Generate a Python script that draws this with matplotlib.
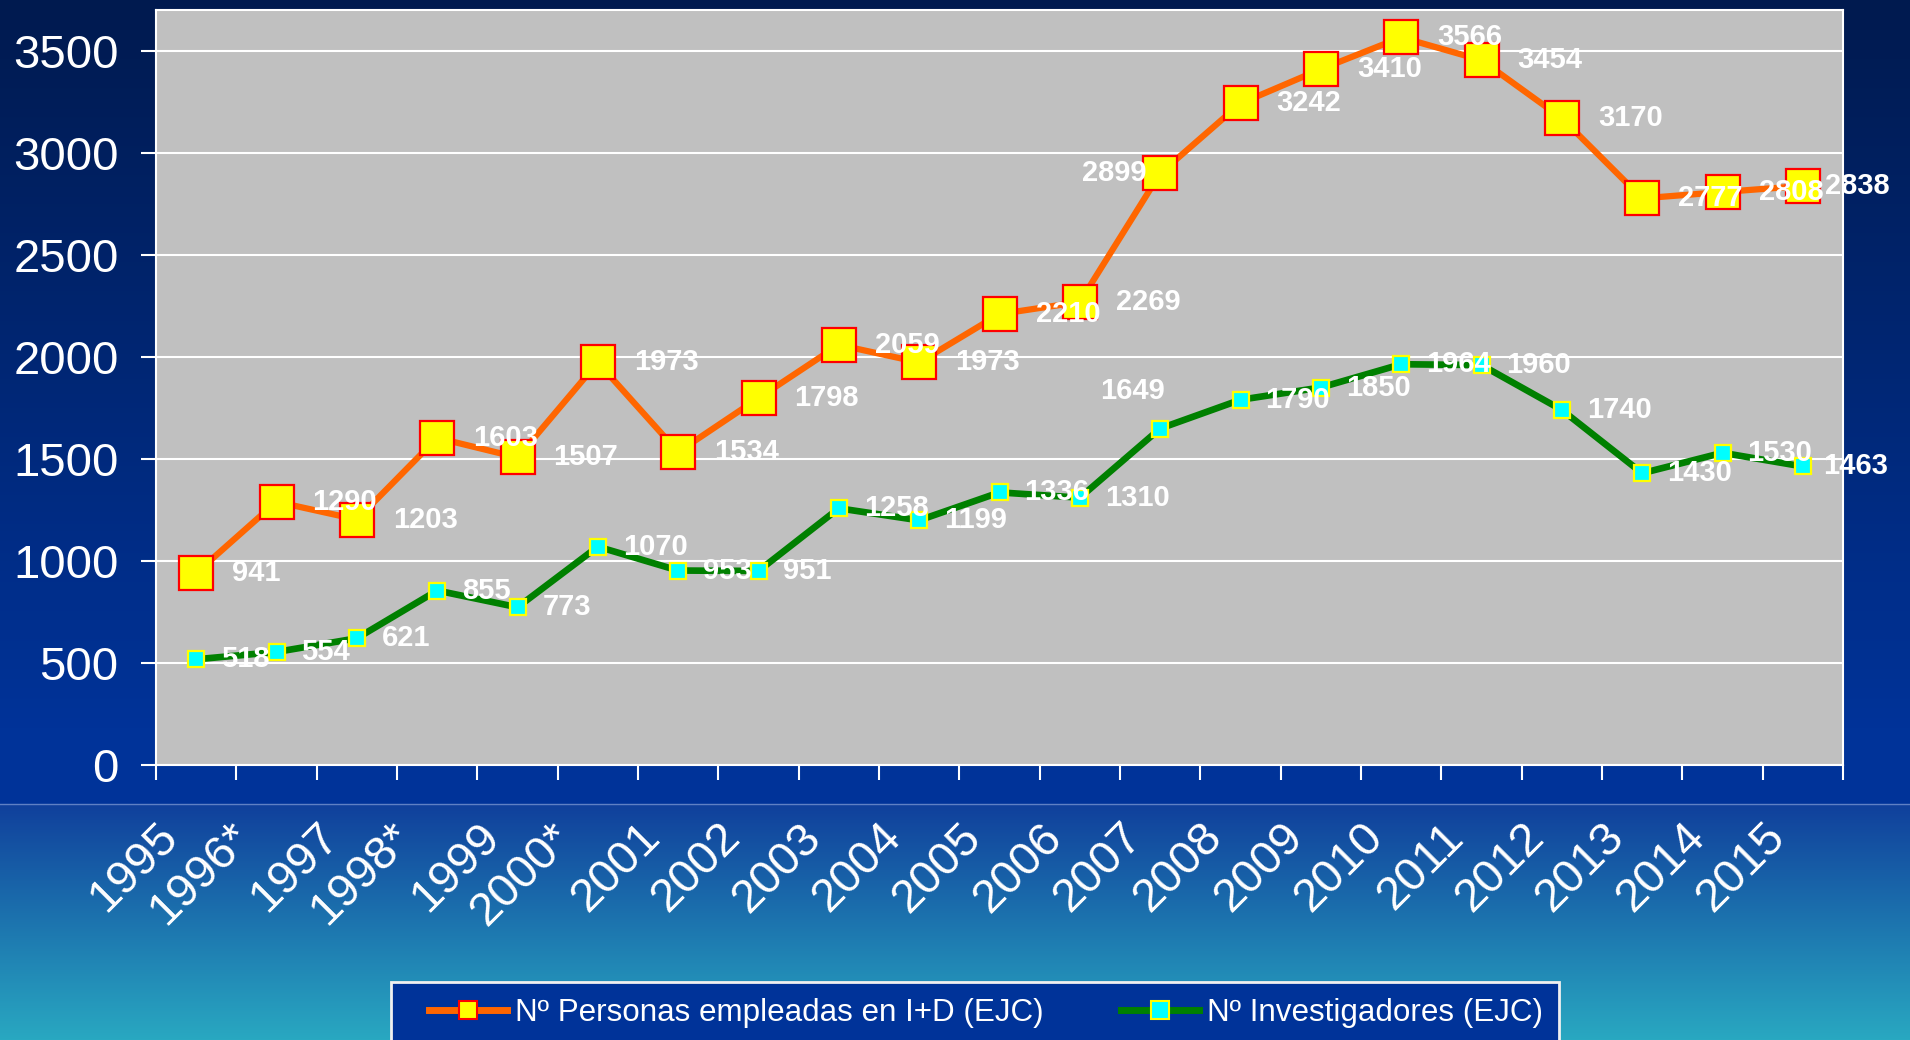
import numpy as np
import matplotlib
matplotlib.use("Agg")
import matplotlib.pyplot as plt
import matplotlib.transforms as mtransforms
from matplotlib.lines import Line2D
from matplotlib.patches import Rectangle

plt.rcParams['font.family'] = ['Liberation Sans', 'DejaVu Sans']

YEARS = ["1995", "1996*", "1997", "1998*", "1999", "2000*", "2001", "2002",
         "2003", "2004", "2005", "2006", "2007", "2008", "2009", "2010",
         "2011", "2012", "2013", "2014", "2015"]

PERSONAS = [941, 1290, 1203, 1603, 1507, 1973, 1534, 1798, 2059, 1973, 2210,
            2269, 2899, 3242, 3410, 3566, 3454, 3170, 2777, 2808, 2838]

INVESTIGADORES = [518, 554, 621, 855, 773, 1070, 953, 951, 1258, 1199, 1336,
                  1310, 1649, 1790, 1850, 1964, 1960, 1740, 1430, 1530, 1463]

LABEL_PERSONAS = "Nº Personas empleadas en I+D (EJC)"
LABEL_INVEST = "Nº Investigadores (EJC)"

W, H = 1910, 1040
fig = plt.figure(figsize=(W / 100, H / 100), dpi=100)

# background: dark navy -> blue, then a teal gradient under the separator line
bg = fig.add_axes([0, 0, 1, 1], zorder=-10)
bg.set_axis_off()
stops = [0.0, 0.70, 0.773, 0.774, 1.0]
cols = np.array([
    [0x00, 0x1a, 0x4f],
    [0x00, 0x33, 0x99],
    [0x00, 0x33, 0x99],
    [0x10, 0x40, 0x9c],
    [0x29, 0xa8, 0xc1],
]) / 255.0
yy = np.linspace(0, 1, H)
grad = np.stack([np.interp(yy, stops, cols[:, c]) for c in range(3)], axis=-1)
grad = np.repeat(grad[:, None, :], 4, axis=1)
bg.imshow(grad, aspect='auto', extent=[0, 1, 1, 0])
bg.set_xlim(0, 1)
bg.set_ylim(1, 0)
fig.add_artist(Line2D([0, 1], [1 - 804 / H, 1 - 804 / H], transform=fig.transFigure,
                      color="#5f80c4", lw=1))

left, right, top, bottom = 156, 1843, 10, 765
ax = fig.add_axes([left / W, 1 - bottom / H, (right - left) / W, (bottom - top) / H])
ax.set_facecolor("#c0c0c0")

x = np.arange(len(YEARS))
ax.plot(x, PERSONAS, color="#ff6600", lw=4.5, marker='s', markersize=25,
        markerfacecolor="#ffff00", markeredgecolor="#ff0000", markeredgewidth=1.6,
        zorder=4)
ax.plot(x, INVESTIGADORES, color="#008000", lw=4.8, marker='s', markersize=12,
        markerfacecolor="#00ffff", markeredgecolor="#ffff00", markeredgewidth=1.6,
        zorder=3)


def value_label(xi, v, dx, dy, ha):
    ax.annotate(str(v), (xi, v), xytext=(dx, dy), textcoords='offset pixels',
                ha=ha, va='center', color='white', fontsize=21,
                fontweight='bold', zorder=6)


# value labels, most to the right of the marker
for i, v in enumerate(PERSONAS):
    if YEARS[i] == "2007":
        value_label(x[i], v, -14, 0, 'right')
    elif YEARS[i] == "2015":
        value_label(x[i], v, 22, 0, 'left')
    else:
        value_label(x[i], v, 36, 0, 'left')
for i, v in enumerate(INVESTIGADORES):
    if YEARS[i] == "2007":
        value_label(x[i], v, 5, 38, 'right')
    elif YEARS[i] == "2015":
        value_label(x[i], v, 20, 0, 'left')
    else:
        value_label(x[i], v, 25, 0, 'left')

ax.set_xlim(-0.5, len(YEARS) - 0.5)
ax.set_ylim(0, 3700)
ax.set_yticks(np.arange(0, 3501, 500))
ax.yaxis.grid(True, color='white', lw=1.5)
ax.set_axisbelow(True)

# ticks between categories, labels on the categories
ax.set_xticks(np.arange(-0.5, len(YEARS)), labels=[])
ax.set_xticks(x, labels=YEARS, minor=True)
ax.tick_params(axis='x', which='major', direction='out', length=11, width=1.5,
               color='white')
ax.tick_params(axis='x', which='minor', length=0, pad=36, labelsize=34,
               labelcolor='white')
ax.tick_params(axis='y', direction='out', length=11, width=1.5, color='white',
               pad=16, labelsize=34, labelcolor='white')
for lab in ax.get_xticklabels(minor=True):
    lab.set_rotation(45)
    lab.set_ha('right')
    lab.set_va('top')
    lab.set_rotation_mode('anchor')
    dx = -48 if lab.get_text().endswith('*') else -40
    lab.set_transform(lab.get_transform() +
                      mtransforms.ScaledTranslation(dx / 100, 0, fig.dpi_scale_trans))

for side in ax.spines.values():
    side.set_color('white')
    side.set_linewidth(1.5)

# legend box
fig.add_artist(Rectangle((391 / W, 1 - 1045 / H), (1559 - 391) / W, (1045 - 982) / H,
                         transform=fig.transFigure, facecolor="#003399",
                         edgecolor="#f0f0f0", lw=2, zorder=5))
handles = [
    Line2D([], [], color="#ff6600", lw=5, marker='s', markersize=13,
           markerfacecolor="#ffff00", markeredgecolor="#ff0000", markeredgewidth=1.5),
    Line2D([], [], color="#008000", lw=5, marker='s', markersize=13,
           markerfacecolor="#00ffff", markeredgecolor="#ffff00", markeredgewidth=1.5),
]
leg = fig.legend(handles, [LABEL_PERSONAS, LABEL_INVEST], loc='center left',
                 bbox_to_anchor=(429 / W, 1 - 1013 / H), ncol=2, frameon=False,
                 borderpad=0, borderaxespad=0, fontsize=22.6, handlelength=2.5,
                 handletextpad=0.25, columnspacing=2.45, labelcolor='white')
leg.set_zorder(6)

fig.savefig("out.png", dpi=100)
